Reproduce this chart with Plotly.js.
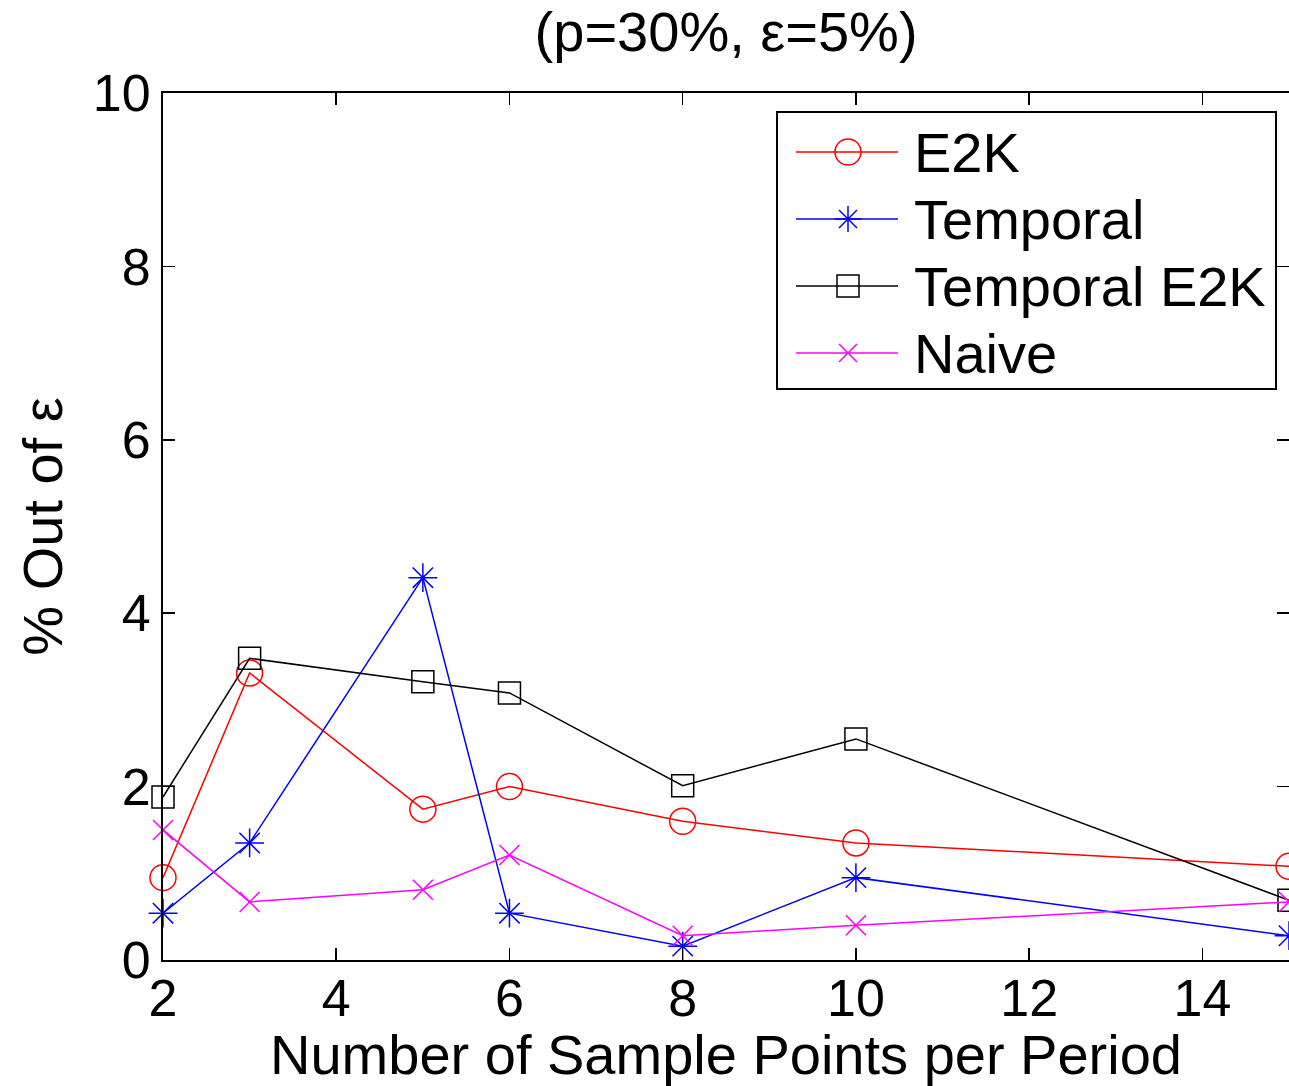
<!DOCTYPE html>
<html>
<head>
<meta charset="utf-8">
<script src="https://cdn.plot.ly/plotly-3.0.1.min.js"></script>
<style>
  html, body { margin: 0; padding: 0; background: #fff; }
  #chart { width: 1289px; height: 1086px; }
</style>
</head>
<body>
<div id="chart"></div>
<script>
// Sample points per period
const samplePoints = [2, 3, 5, 6, 8, 10, 15];

// Percentage of estimates falling outside the error bound
const e2k         = [0.95, 3.31, 1.74, 2.00, 1.60, 1.35, 1.08];
const temporal    = [0.54, 1.35, 4.41, 0.54, 0.16, 0.95, 0.28];
const temporalE2K = [1.88, 3.48, 3.21, 3.08, 2.01, 2.55, 0.69];
const naive       = [1.50, 0.67, 0.81, 1.21, 0.28, 0.40, 0.67];

const seriesNames = ['E2K', 'Temporal', 'Temporal E2K', 'Naive'];

const xTicks = [2, 4, 6, 8, 10, 12, 14];
const yTicks = [0, 2, 4, 6, 8, 10];

const FONT = 'Liberation Sans, Arial, Helvetica, sans-serif';
const FS = 56;

// Plot-area geometry (px)
const W = 1289, H = 1086;
const M = { l: 163, r: 0, t: 93, b: 126 };
const PW = W - M.l - M.r, PH = H - M.t - M.b;
const px2x = px => (px - M.l) / PW;
const py2y = py => (M.t + PH - py) / PH;

const styles = [
  { color: '#ff0000', symbol: 'circle-open',   size: 26 },
  { color: '#0000ff', symbol: 'asterisk-open', size: 24 },
  { color: '#000000', symbol: 'square-open',   size: 22 },
  { color: '#ff00ff', symbol: 'x-thin-open',   size: 20 }
];
const seriesValues = [e2k, temporal, temporalE2K, naive];

const traces = seriesValues.map((ys, i) => ({
  type: 'scatter', mode: 'lines+markers', name: seriesNames[i],
  x: samplePoints, y: ys, cliponaxis: false, showlegend: false,
  line: { color: styles[i].color, width: 1.5 },
  marker: { symbol: styles[i].symbol, size: styles[i].size, color: styles[i].color,
            line: { color: styles[i].color, width: 1.5 } }
}));

// Legend glyph outlines in pixel offsets around the sample centre
const glyphPaths = [
  null,
  'M-13,0H13M0,-13V13M-9,-9L9,9M-9,9L9,-9',
  null,
  'M-9,-9L9,9M-9,9L9,-9'
];

const legendBox = { x0: 777, x1: 1276, y0: 112, y1: 389 };
const rowY = [152, 219, 286, 353];
const lineX0 = 796, lineX1 = 898, glyphX = 848, textX = 912;

const shapes = [{
  type: 'rect', xref: 'paper', yref: 'paper', layer: 'above',
  x0: px2x(legendBox.x0), x1: px2x(legendBox.x1),
  y0: py2y(legendBox.y1), y1: py2y(legendBox.y0),
  line: { color: '#000', width: 2 }, fillcolor: '#fff'
}];
const annotations = [];

seriesNames.forEach((name, i) => {
  const c = styles[i].color;
  const yc = py2y(rowY[i]);
  shapes.push({
    type: 'line', xref: 'paper', yref: 'paper', layer: 'above',
    x0: px2x(lineX0), x1: px2x(lineX1), y0: yc, y1: yc,
    line: { color: c, width: 1.5 }
  });
  const g = {
    xref: 'paper', yref: 'paper', layer: 'above',
    xsizemode: 'pixel', ysizemode: 'pixel',
    xanchor: px2x(glyphX), yanchor: yc,
    line: { color: c, width: 1.5 }
  };
  if (i === 0) {
    shapes.push(Object.assign({ type: 'circle', x0: -13, x1: 13, y0: -13, y1: 13,
                                fillcolor: 'rgba(0,0,0,0)' }, g));
  } else if (i === 2) {
    shapes.push(Object.assign({ type: 'rect', x0: -11, x1: 11, y0: -11, y1: 11,
                                fillcolor: 'rgba(0,0,0,0)' }, g));
  } else {
    shapes.push(Object.assign({ type: 'path', path: glyphPaths[i] }, g));
  }
  annotations.push({
    xref: 'paper', yref: 'paper', x: px2x(textX), y: yc,
    xanchor: 'left', yanchor: 'middle', showarrow: false,
    text: name, font: { family: FONT, size: FS, color: '#000' }
  });
});

const axisCommon = {
  showgrid: false, zeroline: false,
  showline: true, linecolor: '#000', linewidth: 2, mirror: 'ticks',
  ticks: 'inside', ticklen: 12, tickwidth: 1.5, tickcolor: '#000',
  tickfont: { family: FONT, size: 52, color: '#000' }
};

const layout = {
  width: W, height: H,
  margin: { l: M.l, r: M.r, t: M.t, b: M.b, pad: 0 },
  paper_bgcolor: '#fff', plot_bgcolor: '#fff',
  font: { family: FONT, color: '#000' },
  showlegend: false,
  title: {
    text: '(p=30%, \u03b5=5%)',
    font: { family: FONT, size: FS, color: '#000' },
    x: 0.5633, xanchor: 'center', y: 0.971, yanchor: 'middle'
  },
  xaxis: Object.assign({}, axisCommon, {
    range: [2, 15], tickvals: xTicks, ticktext: xTicks.map(String),
    ticklabelstandoff: -8,
    title: { text: 'Number of Sample Points per Period',
             font: { family: FONT, size: FS, color: '#000' }, standoff: 2 }
  }),
  yaxis: Object.assign({}, axisCommon, {
    range: [0, 10], tickvals: yTicks, ticktext: yTicks.map(String),
    title: { text: '% Out of \u03b5',
             font: { family: FONT, size: FS, color: '#000' }, standoff: 12 }
  }),
  shapes: shapes,
  annotations: annotations
};

Plotly.newPlot('chart', traces, layout, { staticPlot: true, displayModeBar: false });
</script>
</body>
</html>
